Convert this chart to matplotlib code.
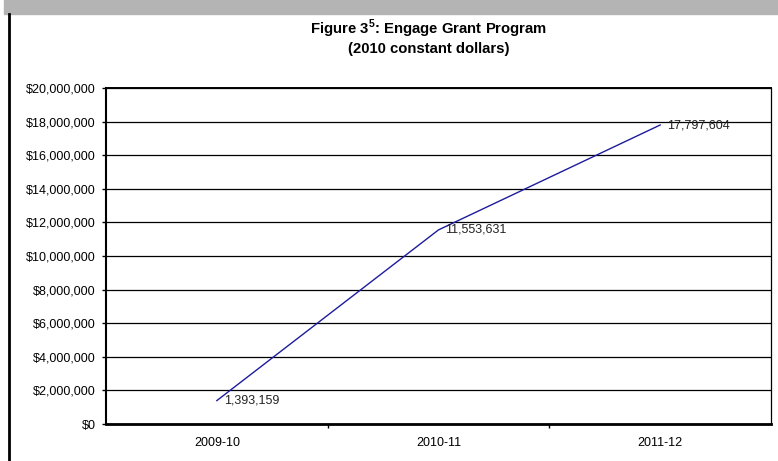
import numpy as np
import matplotlib
matplotlib.use("Agg")
import matplotlib.pyplot as plt
from matplotlib.patches import Rectangle
from matplotlib.lines import Line2D

# Data
years = ['2009-10', '2010-11', '2011-12']
grants = [1393159, 11553631, 17797604]
y_ticks = np.arange(0, 20000001, 2000000)

plt.rcParams['font.family'] = ['Liberation Sans', 'DejaVu Sans']
plt.rcParams['mathtext.fontset'] = 'custom'
plt.rcParams['mathtext.rm'] = 'Liberation Sans'
plt.rcParams['mathtext.bf'] = 'Liberation Sans:bold'

W, H = 778, 461
fig = plt.figure(figsize=(W / 100, H / 100), dpi=100)

# page decorations: grey band at top, black rule on the left
fig.patches.append(Rectangle((4 / W, 1 - 14 / H), 1, 14 / H, transform=fig.transFigure,
                             color='#b4b4b4', zorder=0))
fig.lines.append(Line2D([8.5 / W, 8.5 / W], [0, 1 - 14 / H], transform=fig.transFigure,
                        color='black', lw=2))

ax = fig.add_axes([106 / W, (H - 424) / H, 665 / W, 336 / H])

x = np.arange(len(years))
ax.plot(x, grants, color='#1c1c9c', lw=1, zorder=3)

for xi, v in zip(x, grants):
    ax.annotate(f'{v:,}', (xi, v), xytext=(5, 0), textcoords='offset points',
                ha='left', va='center', fontsize=9, color='#222222')

ax.set_xlim(-0.5, len(years) - 0.5)
ax.set_ylim(0, 20000000)
ax.set_yticks(y_ticks)
ax.set_yticklabels([f'${int(t):,}' for t in y_ticks], fontsize=9)
ax.yaxis.grid(True, color='black', lw=0.9)
ax.set_axisbelow(True)

ax.set_xticks(x)
ax.set_xticklabels(years, fontsize=9)
ax.set_xticks(np.arange(len(years) - 1) + 0.5, minor=True)
ax.tick_params(axis='x', which='major', length=0, pad=9.5)
ax.tick_params(axis='x', which='minor', length=3, width=1, direction='out')
ax.tick_params(axis='y', length=3, width=1, direction='out', pad=4.5)

ax.spines['top'].set_linewidth(1.4)
ax.spines['right'].set_linewidth(0.9)
ax.spines['left'].set_linewidth(1.5)
ax.spines['bottom'].set_linewidth(2)

fig.text(429 / W, 1 - 29 / H, r'Figure 3$^{\mathbf{5}}$: Engage Grant Program',
         ha='center', va='center', fontsize=10.7, fontweight='bold')
fig.text(429 / W, 1 - 49 / H, '(2010 constant dollars)',
         ha='center', va='center', fontsize=10.7, fontweight='bold')

fig.savefig('out.png', dpi=100)
